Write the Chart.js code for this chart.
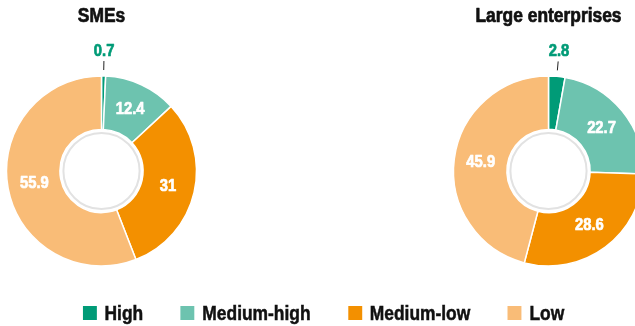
<!DOCTYPE html>
<html>
<head>
<meta charset="utf-8">
<script src="https://cdn.jsdelivr.net/npm/chart.js@4.4.1/dist/chart.umd.min.js"></script>
<style>
  html, body { margin: 0; padding: 0; width: 635px; height: 326px; overflow: hidden; background: #fff; }
  #wrap { position: relative; width: 635px; height: 326px; overflow: hidden; }
  .cv { position: absolute; top: 0; }
  #legend { position: absolute; left: 0; top: 303px; width: 647px; height: 20px; display: flex; justify-content: center; gap: 43px;
    font-family: "Liberation Sans", Arial, sans-serif; font-weight: bold; font-size: 20px; line-height: 20px; color: #111;
    -webkit-text-stroke: 0.5px #111;
    transform: scaleX(0.87); transform-origin: 323.5px 10px; white-space: nowrap; }
  .item { display: flex; align-items: center; }
  .box { width: 16px; height: 14px; margin-right: 9px; }
</style>
</head>
<body>
<div id="wrap">
  <canvas id="c1" class="cv" width="239" height="326" style="left:-18px"></canvas>
  <canvas id="c2" class="cv" width="239" height="326" style="left:429px"></canvas>
  <div id="legend"></div>
</div>
<script>
const categories = ["High", "Medium-high", "Medium-low", "Low"];
const smeValues = [0.7, 12.4, 31, 55.9];
const largeValues = [2.8, 22.7, 28.6, 45.9];
const chartTitles = ["SMEs", "Large enterprises"];
const colors = ["#009B77", "#6DC3AF", "#F39000", "#F9BC77"];

const FONT = '"Liberation Sans", Arial, sans-serif';
const SQUEEZE = 0.87;

function narrowText(ctx, text, x, y, color) {
  ctx.save();
  ctx.translate(x, y);
  ctx.scale(SQUEEZE, 1);
  ctx.fillStyle = color;
  ctx.strokeStyle = color;
  ctx.lineWidth = 0.7;
  ctx.lineJoin = 'round';
  ctx.fillText(text, 0, 0);
  ctx.strokeText(text, 0, 0);
  ctx.restore();
}

const labelPlugin = {
  id: 'sliceLabels',
  afterDatasetsDraw(chart, args, opts) {
    const ctx = chart.ctx;
    const meta = chart.getDatasetMeta(0);
    const data = chart.data.datasets[0].data;
    ctx.save();
    // title
    ctx.font = 'bold 20px ' + FONT;
    ctx.textAlign = 'center';
    ctx.textBaseline = 'alphabetic';
    narrowText(ctx, opts.title, (chart.chartArea.left + chart.chartArea.right) / 2, 21.5, '#111111');
    // inner grey ring
    if (meta.data.length) {
      const a0 = meta.data[0];
      ctx.beginPath();
      ctx.arc(a0.x, a0.y, a0.innerRadius - 3.5, 0, Math.PI * 2);
      ctx.strokeStyle = '#e2e2e2';
      ctx.lineWidth = 2;
      ctx.stroke();
    }
    ctx.textAlign = 'center';
    ctx.textBaseline = 'middle';
    ctx.font = 'bold 17px ' + FONT;
    meta.data.forEach((arc, i) => {
      const p = arc.getProps(['x', 'y', 'startAngle', 'endAngle', 'innerRadius', 'outerRadius'], true);
      const mid = (p.startAngle + p.endAngle) / 2;
      const c = Math.cos(mid), s = Math.sin(mid);
      const v = data[i];
      if (v < 5) {
        ctx.beginPath();
        ctx.moveTo(p.x + c * (p.outerRadius + 6), p.y + s * (p.outerRadius + 6));
        ctx.lineTo(p.x + c * (p.outerRadius + 15), p.y + s * (p.outerRadius + 15));
        ctx.strokeStyle = '#222';
        ctx.lineWidth = 1;
        ctx.stroke();
        narrowText(ctx, String(v), p.x + c * (p.outerRadius + 25), p.y + s * (p.outerRadius + 25), colors[i]);
      } else {
        const r = (p.innerRadius + p.outerRadius) / 2;
        narrowText(ctx, String(v), p.x + c * r, p.y + s * r, '#ffffff');
      }
    });
    ctx.restore();
  }
};

function makeChart(id, title, values) {
  return new Chart(document.getElementById(id), {
    type: 'doughnut',
    data: {
      labels: categories,
      datasets: [{
        data: values,
        backgroundColor: colors,
        borderColor: '#ffffff',
        borderWidth: 1.5,
        hoverOffset: 0
      }]
    },
    options: {
      responsive: false,
      animation: false,
      radius: 95,
      cutout: 52,
      layout: { padding: { top: 36, bottom: 20, left: 0, right: 0 } },
      plugins: {
        legend: { display: false },
        tooltip: { enabled: false },
        title: { display: false },
        sliceLabels: { title: title }
      }
    },
    plugins: [labelPlugin]
  });
}

makeChart('c1', chartTitles[0], smeValues);
makeChart('c2', chartTitles[1], largeValues);

const legend = document.getElementById('legend');
categories.forEach((cat, i) => {
  const item = document.createElement('div');
  item.className = 'item';
  const box = document.createElement('span');
  box.className = 'box';
  box.style.background = colors[i];
  const txt = document.createElement('span');
  txt.textContent = cat;
  item.appendChild(box);
  item.appendChild(txt);
  legend.appendChild(item);
});
</script>
</body>
</html>
